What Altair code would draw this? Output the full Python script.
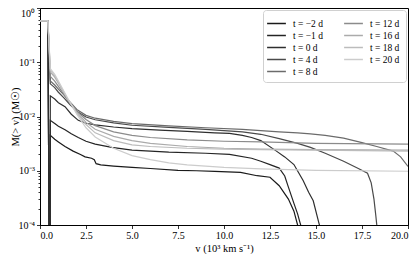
import altair as alt
import pandas as pd

# shared head of every curve (v in 1e3 km/s, M in Msun)
HEAD_V = [0.0, 0.43]
HEAD_M = [0.58, 0.58]
# early (dark) curves plunge to the bottom before rising to their first value
DIP_V = [0.52, 0.54]
DIP_M = [1e-6, 1e-6]

LABELS = ["t = −2 d", "t = −1 d", "t = 0 d", "t = 4 d", "t = 8 d",
          "t = 12 d", "t = 16 d", "t = 18 d", "t = 20 d"]
HAS_DIP = [True, True, True, False, False, False, False, False, False]

V_M2 = [0.56, 0.8, 1.0, 1.36, 1.8, 2.2, 2.45, 2.8, 2.95, 3.05, 3.3, 4.0, 5.0, 6.0, 7.5, 8.5, 9.5, 10.9, 11.8, 12.5, 13.0, 13.5, 13.8, 14.0, 14.1]
M_M2 = [0.0045, 0.0038, 0.0034, 0.0028, 0.0023, 0.002, 0.0018, 0.0017, 0.0016, 0.00135, 0.00128, 0.00122, 0.00115, 0.0011, 0.00102, 0.001, 0.00097, 0.00093, 0.00081, 0.00076, 0.00053, 0.0003, 0.00018, 0.0001, 0.00007]

V_M1 = [0.56, 0.8, 1.0, 1.36, 1.7, 2.08, 2.5, 3.0, 3.9, 5.0, 7.0, 9.0, 10.3, 11.5, 12.0, 12.5, 13.0, 13.3, 13.5, 13.8, 14.0, 14.1, 14.25]
M_M1 = [0.0085, 0.0074, 0.0066, 0.0057, 0.0048, 0.0041, 0.0035, 0.0031, 0.0027, 0.0024, 0.0022, 0.0021, 0.002, 0.0017, 0.0015, 0.0013, 0.00112, 0.0008, 0.0005, 0.00025, 0.00016, 0.00012, 0.00008]

V_0 = [0.56, 0.8, 1.0, 1.36, 1.7, 2.08, 2.5, 3.0, 4.0, 5.0, 6.5, 8.0, 9.5, 10.3, 11.0, 11.5, 12.0, 12.85, 13.3, 13.8, 14.3, 14.6, 14.85, 15.1, 15.3]
M_0 = [0.024, 0.021, 0.018, 0.0152, 0.011, 0.0085, 0.0075, 0.0070, 0.0064, 0.0060, 0.0056, 0.0053, 0.005, 0.0049, 0.0045, 0.0041, 0.0036, 0.0023, 0.0018, 0.0013, 0.00066, 0.0004, 0.00028, 0.00013, 0.00007]

V_4 = [0.56, 0.8, 1.0, 1.3, 1.6, 2.0, 2.5, 3.0, 4.0, 5.0, 7.0, 9.0, 11.0, 12.0, 13.0, 14.0, 14.7, 15.5, 16.5, 17.3, 17.8, 18.0, 18.15, 18.25, 18.35]
M_4 = [0.04, 0.034, 0.028, 0.022, 0.017, 0.0125, 0.0098, 0.0087, 0.0076, 0.0069, 0.0063, 0.0058, 0.0052, 0.0047, 0.0039, 0.0032, 0.0027, 0.0021, 0.0015, 0.0011, 0.0009, 0.0006, 0.0003, 0.00015, 0.00007]

V_8 = [0.56, 0.8, 1.0, 1.3, 1.6, 2.0, 2.5, 3.0, 4.0, 5.0, 7.0, 9.0, 11.0, 12.0, 13.0, 14.0, 14.7, 15.5, 16.5, 17.5, 18.3, 19.2, 19.6, 20.0]
M_8 = [0.045, 0.038, 0.032, 0.025, 0.019, 0.0135, 0.0105, 0.0093, 0.0081, 0.0074, 0.0067, 0.0062, 0.0058, 0.0055, 0.0052, 0.0050, 0.0048, 0.0045, 0.0040, 0.0033, 0.0028, 0.0023, 0.0018, 0.0012]

V_12 = [0.56, 0.8, 1.0, 1.5, 2.0, 2.5, 3.0, 4.0, 5.0, 6.0, 8.0, 10.0, 12.0, 15.0, 20.0]
M_12 = [0.055, 0.045, 0.036, 0.02, 0.0125, 0.0088, 0.0068, 0.0052, 0.0045, 0.0041, 0.0037, 0.0035, 0.0034, 0.0032, 0.0031]

V_16 = [0.56, 0.8, 1.0, 1.5, 2.0, 2.5, 3.0, 4.0, 5.0, 6.0, 8.0, 10.0, 12.0, 15.0, 20.0]
M_16 = [0.066, 0.053, 0.041, 0.021, 0.012, 0.0078, 0.0058, 0.0043, 0.0036, 0.0032, 0.0028, 0.0026, 0.0025, 0.00245, 0.0024]

V_18 = [0.56, 0.8, 1.0, 1.5, 2.0, 2.5, 3.0, 4.0, 5.0, 6.0, 8.0, 10.0, 12.0, 15.0, 20.0]
M_18 = [0.071, 0.057, 0.043, 0.021, 0.0115, 0.0071, 0.005, 0.0036, 0.003, 0.0028, 0.0026, 0.0025, 0.00245, 0.0024, 0.0023]

V_20 = [0.56, 0.8, 1.0, 1.5, 2.0, 2.5, 3.0, 4.0, 5.0, 6.0, 7.0, 8.0, 10.0, 12.0, 15.0, 20.0]
M_20 = [0.076, 0.06, 0.045, 0.022, 0.011, 0.0062, 0.0042, 0.0026, 0.0019, 0.0016, 0.0014, 0.00128, 0.00115, 0.00108, 0.00102, 0.00098]

SERIES_V = [V_M2, V_M1, V_0, V_4, V_8, V_12, V_16, V_18, V_20]
SERIES_M = [M_M2, M_M1, M_0, M_4, M_8, M_12, M_16, M_18, M_20]

COLORS = ["#1a1a1a", "#242424", "#2e2e2e", "#4a4a4a", "#6b6b6b",
          "#8b8b8b", "#ababab", "#bcbcbc", "#cccccc"]

rows = []
for i, (lab, vs, ms) in enumerate(zip(LABELS, SERIES_V, SERIES_M)):
    hv = HEAD_V + (DIP_V if HAS_DIP[i] else [])
    hm = HEAD_M + (DIP_M if HAS_DIP[i] else [])
    for j, (v, m) in enumerate(zip(hv + vs, hm + ms)):
        rows.append({"series": lab, "idx": i, "j": j, "v": v, "M": m})
df = pd.DataFrame(rows)

yvals = []
for e in range(-4, 0):
    for k in range(1, 10):
        yvals.append(k * 10.0 ** e if k > 1 else 10.0 ** e)
yvals.append(1.0)

FONT = "Liberation Serif"
is_major = "abs(log(datum.value)/LN10 - round(log(datum.value)/LN10)) < 0.001"

chart = alt.Chart(df).mark_line(clip=True, strokeWidth=1.2).encode(
    x=alt.X("v:Q", scale=alt.Scale(domain=[0, 20], nice=False, zero=False),
            axis=alt.Axis(values=[0, 2.5, 5, 7.5, 10, 12.5, 15, 17.5, 20], format=".1f",
                          title="v (10³ km s⁻¹)", grid=False, tickSize=3.5,
                          labelPadding=2, titlePadding=3)),
    y=alt.Y("M:Q", scale=alt.Scale(type="log", domain=[1e-4, 1], nice=False),
            axis=alt.Axis(values=yvals, grid=False, title="M(> v) (M☉)",
                          labelExpr="datum.value == 1 ? '10⁰' : datum.value == 0.1 ? '10⁻¹' : datum.value == 0.01 ? '10⁻²' : datum.value == 0.001 ? '10⁻³' : datum.value == 0.0001 ? '10⁻⁴' : ''",
                          tickSize={"condition": {"test": is_major, "value": 3.5}, "value": 2},
                          labelBaseline={"condition": {"test": "datum.value == 1", "value": "top"}, "value": "middle"},
                          labelPadding=2, titleX=-20, titleAlign="center")),
    color=alt.Color("series:N", scale=alt.Scale(domain=LABELS, range=COLORS),
                    legend=alt.Legend(title=None, orient="top-right", columns=2,
                                      symbolType="M-1.4,0H1.4", symbolSize=180,
                                      symbolStrokeWidth=1.5, labelFont=FONT,
                                      labelFontSize=9.5, rowPadding=0,
                                      columnPadding=18, labelOffset=9,
                                      padding=6, offset=2, cornerRadius=3,
                                      strokeColor="#d0d0d0", fillColor="white")),
    detail="idx:O",
    order="j:Q",
).properties(
    width=368, height=217,
    autosize=alt.AutoSizeParams(type="none"),
    padding={"left": 32, "top": 0, "right": 3, "bottom": 29},
).configure_view(
    stroke="#000", strokeWidth=1
).configure_axis(
    labelFont=FONT, titleFont=FONT, labelFontSize=10, titleFontSize=10.5,
    titleFontWeight="normal", domainColor="#000", tickColor="#000",
    labelColor="#000", titleColor="#000", domainWidth=1, tickWidth=0.8
)

chart.save("out.html", embed_options={"renderer": "svg", "actions": False})
